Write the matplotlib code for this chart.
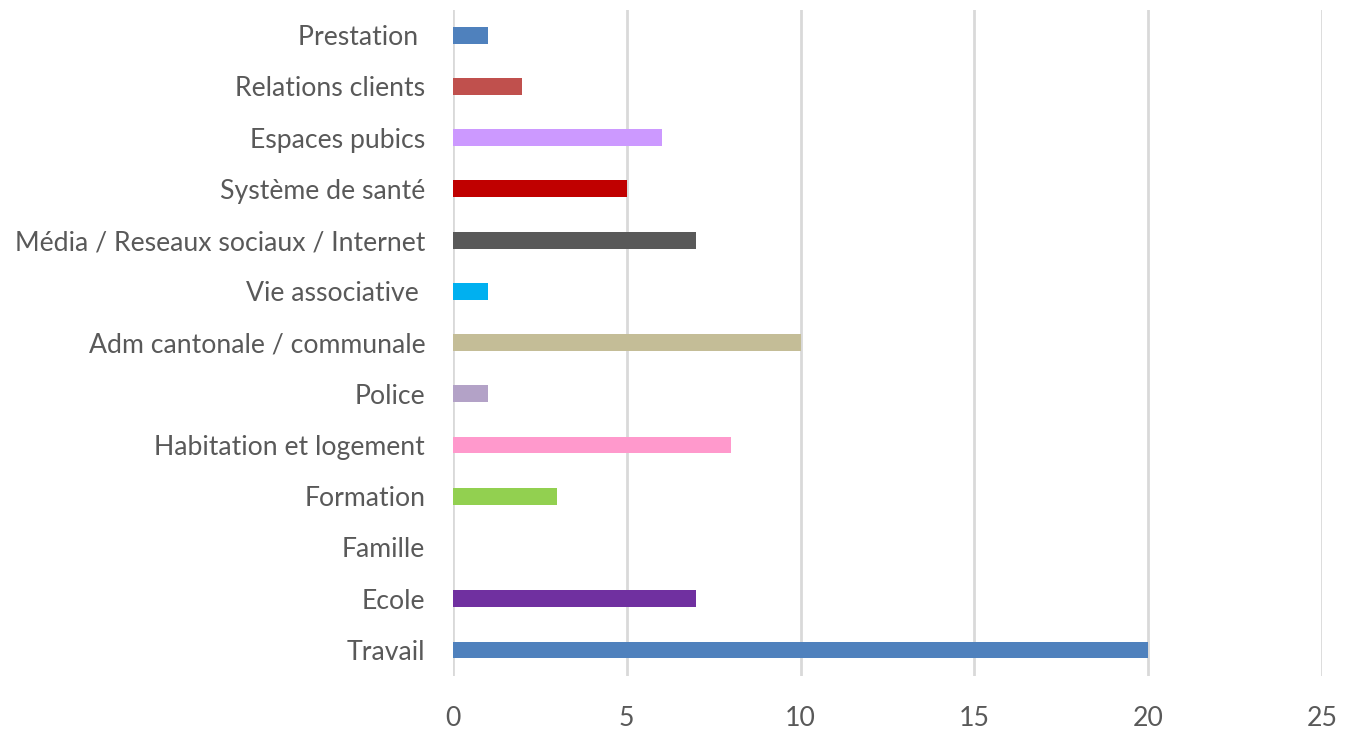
import matplotlib
matplotlib.use("Agg")
import matplotlib.pyplot as plt

categories = ["Travail", "Ecole", "Famille", "Formation", "Habitation et logement",
              "Police", "Adm cantonale / communale", "Vie associative ",
              "Média / Reseaux sociaux / Internet", "Système de santé",
              "Espaces pubics", "Relations clients", "Prestation "]
values = [20, 7, 0, 3, 8, 1, 10, 1, 7, 5, 6, 2, 1]
colors = ["#4F81BD", "#7030A0", "#F79646", "#92D050", "#FF99CC", "#B3A2C7",
          "#C4BD97", "#00B0F0", "#595959", "#C00000", "#CC99FF", "#C0504D", "#4F81BD"]
xticks = [0, 5, 10, 15, 20, 25]

plt.rcParams['font.family'] = ['Lato', 'DejaVu Sans']

fig = plt.figure(figsize=(13.56, 7.31), dpi=100)
ax = fig.add_axes([0.334, 0.0758, 0.975 - 0.334, 0.987 - 0.0758])
ypos = list(range(len(categories)))
ax.barh(ypos, values, height=0.33, color=colors, zorder=3)
ax.set_xlim(0, 25)
ax.set_ylim(-0.5, len(categories) - 0.5)
ax.set_xticks(xticks)
ax.set_yticks(ypos)
ax.set_yticklabels(categories)
ax.grid(axis='x', color='#D9D9D9', linewidth=2, zorder=0)
for s in ax.spines.values():
    s.set_visible(False)
ax.tick_params(axis='both', length=0, labelsize=19.2, labelcolor='#595959')
ax.tick_params(axis='x', pad=22)
ax.tick_params(axis='y', pad=20)
fig.savefig("out.png", dpi=100)
